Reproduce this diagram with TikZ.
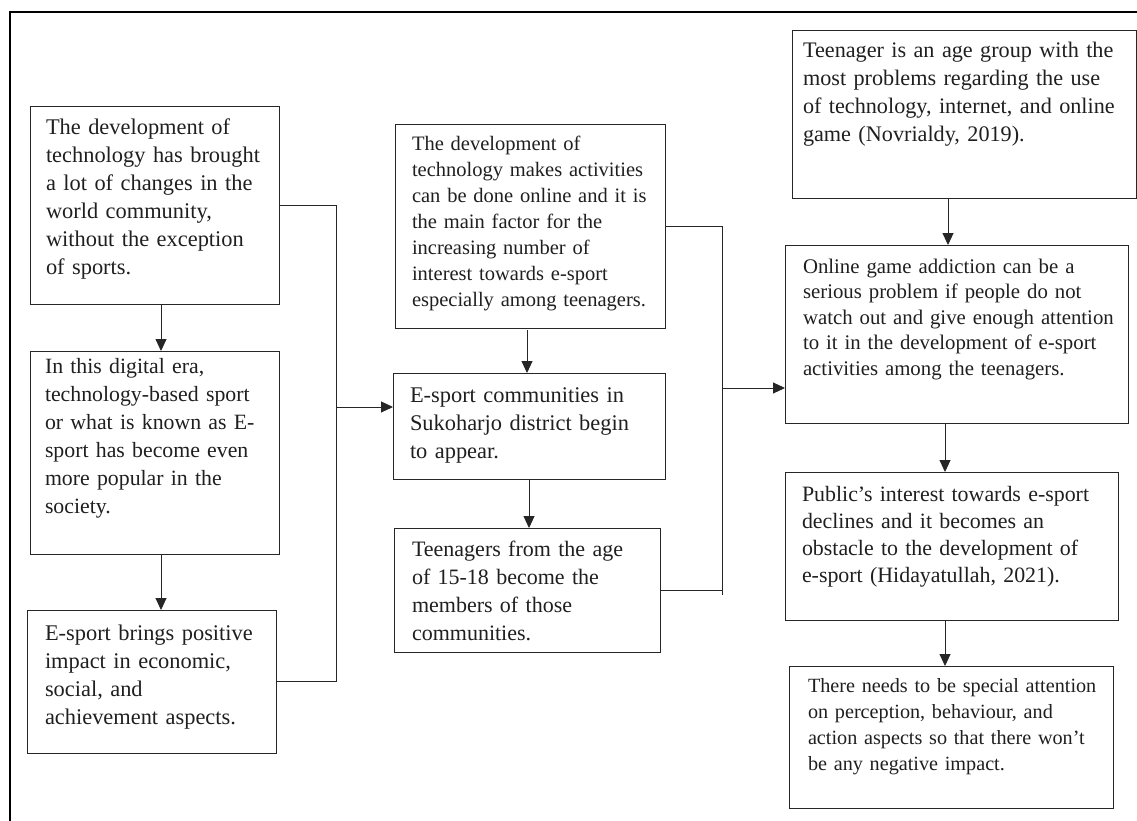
\documentclass[tikz,border=0pt]{standalone}
\usepackage{fontspec}
\setmainfont{Liberation Serif}
\usetikzlibrary{arrows.meta,calc}
\tikzset{
  box/.style={draw=black!85, line width=1pt, inner sep=0pt, outer sep=0pt},
  txt/.style={anchor=north west, inner sep=0pt, outer sep=0pt, align=left, text width=360pt, text=black!88},
  big/.style={font=\fontsize{22.4}{28}\selectfont},
  small/.style={font=\fontsize{20.5}{26}\selectfont},
  conn/.style={draw=black!85, line width=0.9pt},
  arr/.style={conn, -{Triangle[length=12pt,width=11pt]}},
}
\begin{document}
\begin{tikzpicture}[x=1pt,y=-1pt]
\useasboundingbox (0,0) rectangle (1137,821);
% frame
\draw[line width=2pt] (1137,12.5) -- (10,12.5) -- (10,821);
% boxes
\node[box, minimum width=249pt, minimum height=197pt] (A) at (154.5,205.5) {};
\node[box, minimum width=249pt, minimum height=203pt] (B) at (154.5,452.5) {};
\node[box, minimum width=249pt, minimum height=143pt] (C) at (151.5,681.5) {};
\node[box, minimum width=272pt, minimum height=106pt] (D) at (529,426) {};
\node[box, minimum width=270pt, minimum height=203pt] (E) at (530,226.5) {};
\node[box, minimum width=266pt, minimum height=124pt] (F) at (527,590) {};
\node[box, minimum width=343pt, minimum height=178pt] (G) at (956.5,334) {};
\node[box, minimum width=344pt, minimum height=168pt] (H) at (964,115) {};
\node[box, minimum width=333pt, minimum height=148pt] (I) at (951.5,546) {};
\node[box, minimum width=324pt, minimum height=142pt] (J) at (951,737) {};
% texts
\node[txt, big] (At) at (46,115.4) {\strut The development of\\technology has brought\\a lot of changes in the\\world community,\\without the exception\\of sports.};
\node[txt, font=\fontsize{21.8}{28}\selectfont] (Bt) at (45,353.4) {\strut In this digital era,\\technology-based sport\\or what is known as E-\\sport has become even\\more popular in the\\society.};
\node[txt, big] (Ct) at (45,620.4) {\strut E-sport brings positive\\impact in economic,\\social, and\\achievement aspects.};
\node[txt, big] (Dt) at (410,382.4) {\strut E-sport communities in\\Sukoharjo district begin\\to appear.};
\node[txt, small] (Et) at (412,132.8) {\strut The development of\\technology makes activities\\can be done online and it is\\the main factor for the\\increasing number of\\interest towards e-sport\\especially among teenagers.};
\node[txt, font=\fontsize{22}{28}\selectfont] (Ft) at (412,536.4) {\strut Teenagers from the age\\of 15-18 become the\\members of those\\communities.};
\node[txt, font=\fontsize{22.2}{28}\selectfont] (Ht) at (803,38.4) {\strut Teenager is an age group with the\\most problems regarding the use\\of technology, internet, and online\\game (Novrialdy, 2019).};
\node[txt, font=\fontsize{20.8}{25.5}\selectfont] (Gt) at (803,255.2) {\strut Online game addiction can be a\\serious problem if people do not\\watch out and give enough attention\\to it in the development of e-sport\\activities among the teenagers.};
\node[txt, font=\fontsize{21.9}{26.7}\selectfont] (It) at (802,483.3) {\strut Public’s interest towards e-sport\\declines and it becomes an\\obstacle to the development of\\e-sport (Hidayatullah, 2021).};
\node[txt, font=\fontsize{20.2}{26}\selectfont] (Jt) at (808,673.8) {\strut There needs to be special attention\\on perception, behaviour, and\\action aspects so that there won’t\\be any negative impact.};
% left column arrows
\draw[arr] ([xshift=6.5pt]A.south) -- ([xshift=6.5pt]A.south |- B.north);
\draw[arr] ([xshift=6.5pt]B.south) -- ([xshift=6.5pt]B.south |- C.north);
% left bus
\coordinate (busL) at (336,407);
\draw[conn] (A.east) -- (A.east -| busL) -- (C.east -| busL) -- (C.east);
\draw[arr] (busL) -- (busL -| D.west);
% middle column arrows
\draw[arr] ([xshift=-3pt,yshift=-2pt]E.south) -- ([xshift=-3pt]E.south |- D.north);
\draw[arr] (D.south) -- (D.south |- F.north);
% right bus
\coordinate (busR) at (722,388);
\draw[conn] (E.east) -- (E.east -| busR) -- ($(F.east -| busR)+(0,5)$);
\draw[conn] (F.east) -- (F.east -| busR);
\draw[arr] (busR) -- (busR -| G.west);
% right column arrows
\draw[arr] ([xshift=-16pt]H.south) -- ([xshift=-16pt]H.south |- G.north);
\draw[arr] ([xshift=-11.5pt]G.south) -- ([xshift=-11.5pt]G.south |- I.north);
\draw[arr] ([xshift=-6.5pt]I.south) -- ([xshift=-6.5pt]I.south |- J.north);
\end{tikzpicture}
\end{document}
